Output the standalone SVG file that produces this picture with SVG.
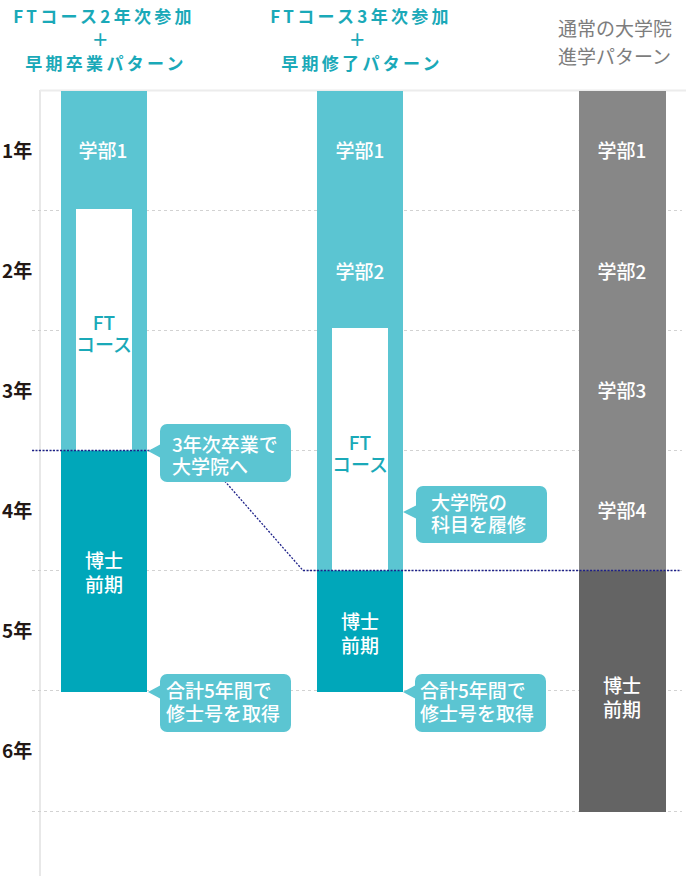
<svg xmlns="http://www.w3.org/2000/svg" width="686" height="882" viewBox="0 0 686 882">
<style>
text{font-family:"Noto Sans CJK JP","Noto Sans",sans-serif}
.hd{font-size:17px;font-weight:bold;fill:#1aa9b8;letter-spacing:3.3px;text-anchor:middle}
.hd3{font-size:19px;fill:#7d7d7d}
.yr{font-size:19px;font-weight:bold;fill:#231815}
.lb{font-size:19px;font-weight:500;fill:#ffffff;text-anchor:middle}
.ft{font-size:19px;font-weight:500;fill:#1aa9b8;text-anchor:middle}
.co{font-size:19px;font-weight:500;fill:#ffffff}
.grid{stroke:#d2d2d2;stroke-width:1;stroke-dasharray:3 3;fill:none}
.lt{fill:#5bc5d2}
.dk{fill:#00a7ba}
.g1{fill:#878787}
.g2{fill:#646464}
.bub{fill:#5bc5d2}
</style>
<rect width="686" height="882" fill="#ffffff"/>
<g id="frame">
<line x1="40" y1="90" x2="40" y2="876" stroke="#e8e8e8" stroke-width="2"/>
<line x1="40" y1="90.5" x2="686" y2="90.5" stroke="#ececec" stroke-width="2"/>
</g>
<g id="gridlines">
<line class="grid" x1="32" y1="210.5" x2="682" y2="210.5"/>
<line class="grid" x1="32" y1="330.5" x2="682" y2="330.5"/>
<line class="grid" x1="32" y1="450.5" x2="682" y2="450.5"/>
<line class="grid" x1="32" y1="570.5" x2="682" y2="570.5"/>
<line class="grid" x1="32" y1="690.5" x2="682" y2="690.5"/>
<line class="grid" x1="32" y1="811.5" x2="682" y2="811.5"/>
</g>
<g id="headers">
<text class="hd"><tspan x="104" y="23">FTコース2年次参加</tspan><tspan x="102" y="46">＋</tspan><tspan x="106" y="70">早期卒業パターン</tspan></text>
<text class="hd"><tspan x="361" y="23">FTコース3年次参加</tspan><tspan x="359" y="46">＋</tspan><tspan x="362" y="70">早期修了パターン</tspan></text>
<text class="hd3"><tspan x="558" y="36">通常の大学院</tspan><tspan x="558" y="64">進学パターン</tspan></text>
</g>
<g id="years">
<text class="yr" x="2" y="158">1年</text>
<text class="yr" x="2" y="278">2年</text>
<text class="yr" x="2" y="398">3年</text>
<text class="yr" x="2" y="518">4年</text>
<text class="yr" x="2" y="638">5年</text>
<text class="yr" x="2" y="758">6年</text>
</g>
<g id="col1">
<rect class="lt" x="61" y="91" width="86" height="360"/>
<rect x="76" y="209" width="56" height="242" fill="#ffffff"/>
<rect class="dk" x="61" y="450.5" width="86" height="241.5"/>
<text class="lb" x="103" y="158">学部1</text>
<text class="ft"><tspan x="104" y="330">FT</tspan><tspan x="104" y="352">コース</tspan></text>
<text class="lb"><tspan x="104" y="568">博士</tspan><tspan x="104" y="592">前期</tspan></text>
</g>
<g id="col2">
<rect class="lt" x="317" y="91" width="86" height="480"/>
<rect x="332" y="328" width="56" height="243" fill="#ffffff"/>
<rect class="dk" x="317" y="570.5" width="86" height="121.5"/>
<text class="lb" x="360" y="158">学部1</text>
<text class="lb" x="360" y="279">学部2</text>
<text class="ft"><tspan x="360" y="450">FT</tspan><tspan x="360" y="472">コース</tspan></text>
<text class="lb"><tspan x="360" y="629">博士</tspan><tspan x="360" y="653">前期</tspan></text>
</g>
<g id="col3">
<rect class="g1" x="579" y="91" width="87" height="480"/>
<rect class="g2" x="579" y="570.5" width="87" height="241.5"/>
<text class="lb" x="622" y="158">学部1</text>
<text class="lb" x="622" y="279">学部2</text>
<text class="lb" x="622" y="398">学部3</text>
<text class="lb" x="622" y="518">学部4</text>
<text class="lb"><tspan x="622" y="693">博士</tspan><tspan x="622" y="717">前期</tspan></text>
</g>
<g id="connectors">
<path d="M32 450.5 H198 L303 570.5 H680" fill="none" stroke="#1d2088" stroke-width="1.3" stroke-dasharray="2 1.5"/>
</g>
<g id="callout1">
<rect class="bub" x="160" y="424" width="131" height="58" rx="7"/>
<polygon class="bub" points="161,444 148,451 161,458"/>
<text class="co"><tspan x="172" y="452">3年次卒業で</tspan><tspan x="172" y="474">大学院へ</tspan></text>
</g>
<g id="callout2">
<rect class="bub" x="416" y="486" width="131" height="57" rx="7"/>
<polygon class="bub" points="417,505 403,512 417,519"/>
<text class="co"><tspan x="431" y="510">大学院の</tspan><tspan x="431" y="532">科目を履修</tspan></text>
</g>
<g id="callout3">
<rect class="bub" x="160" y="674" width="131" height="58" rx="7"/>
<polygon class="bub" points="161,685 148,692 161,699"/>
<text class="co"><tspan x="166" y="698">合計5年間で</tspan><tspan x="166" y="721">修士号を取得</tspan></text>
</g>
<g id="callout4">
<rect class="bub" x="415" y="674" width="131" height="58" rx="7"/>
<polygon class="bub" points="416,685 403,692 416,699"/>
<text class="co"><tspan x="420" y="698">合計5年間で</tspan><tspan x="420" y="721">修士号を取得</tspan></text>
</g>
</svg>
